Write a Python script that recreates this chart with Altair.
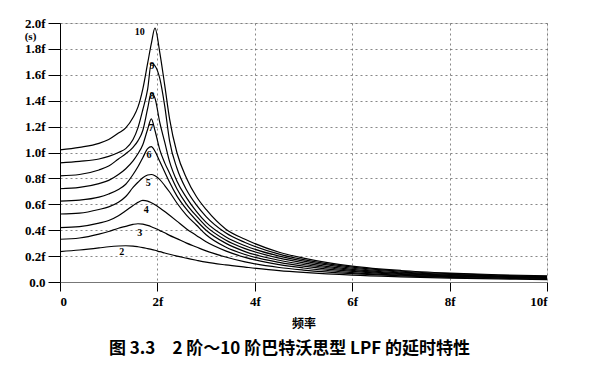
import altair as alt
import pandas as pd

freq = [0, 0.4, 0.8, 1.0, 1.2, 1.35, 1.5, 1.6, 1.7, 1.8, 1.875, 1.95, 2.05, 2.15,
        2.25, 2.4, 2.6, 2.8, 3.0, 3.4, 3.8, 4.5, 5, 6, 7, 8, 9, 10]

d2 = [0.235, 0.247, 0.263, 0.272, 0.278, 0.280, 0.277, 0.272, 0.266, 0.258, 0.252, 0.245, 0.234, 0.224,
      0.214, 0.200, 0.184, 0.168, 0.153, 0.132, 0.115, 0.088, 0.074, 0.053, 0.040, 0.030, 0.024, 0.019]
d3 = [0.330, 0.340, 0.370, 0.390, 0.415, 0.430, 0.445, 0.450, 0.447, 0.437, 0.427, 0.415, 0.397, 0.380,
      0.360, 0.335, 0.300, 0.270, 0.240, 0.193, 0.155, 0.112, 0.092, 0.064, 0.047, 0.036, 0.029, 0.023]
d4 = [0.420, 0.428, 0.455, 0.475, 0.512, 0.550, 0.590, 0.615, 0.630, 0.625, 0.612, 0.597, 0.572, 0.545,
      0.515, 0.470, 0.410, 0.360, 0.310, 0.240, 0.190, 0.134, 0.108, 0.073, 0.053, 0.041, 0.033, 0.027]
d5 = [0.525, 0.532, 0.560, 0.580, 0.615, 0.660, 0.730, 0.770, 0.805, 0.826, 0.830, 0.820, 0.790, 0.745,
      0.695, 0.610, 0.515, 0.440, 0.365, 0.270, 0.212, 0.152, 0.122, 0.082, 0.059, 0.046, 0.037, 0.031]
d6 = [0.625, 0.632, 0.655, 0.680, 0.715, 0.755, 0.830, 0.890, 0.960, 1.030, 1.045, 1.010, 0.930, 0.850,
      0.770, 0.665, 0.560, 0.475, 0.400, 0.300, 0.235, 0.168, 0.135, 0.090, 0.065, 0.050, 0.041, 0.034]
d7 = [0.720, 0.730, 0.760, 0.785, 0.830, 0.875, 0.935, 0.990, 1.060, 1.180, 1.260, 1.170, 1.020, 0.920,
      0.840, 0.720, 0.600, 0.510, 0.430, 0.325, 0.258, 0.184, 0.148, 0.098, 0.071, 0.054, 0.044, 0.037]
d8 = [0.820, 0.830, 0.865, 0.895, 0.950, 0.990, 1.040, 1.090, 1.170, 1.340, 1.460, 1.420, 1.230, 1.080,
      0.930, 0.780, 0.650, 0.545, 0.460, 0.350, 0.280, 0.200, 0.161, 0.106, 0.077, 0.059, 0.048, 0.040]
d9 = [0.920, 0.932, 0.950, 0.970, 1.000, 1.030, 1.100, 1.190, 1.330, 1.490, 1.690, 1.670, 1.570, 1.360,
      1.090, 0.880, 0.710, 0.595, 0.505, 0.380, 0.305, 0.215, 0.173, 0.115, 0.083, 0.064, 0.052, 0.043]
d10 = [1.020, 1.040, 1.070, 1.100, 1.150, 1.190, 1.270, 1.350, 1.490, 1.690, 1.840, 1.960, 1.770, 1.520,
       1.260, 1.000, 0.800, 0.660, 0.560, 0.410, 0.330, 0.230, 0.185, 0.123, 0.089, 0.069, 0.056, 0.047]

orders = [2, 3, 4, 5, 6, 7, 8, 9, 10]
series = [d2, d3, d4, d5, d6, d7, d8, d9, d10]

lab_text = ["2", "3", "4", "5", "6", "7", "8", "9", "10"]
lab_x = [1.27, 1.64, 1.77, 1.81, 1.83, 1.87, 1.89, 1.89, 1.64]
lab_y = [0.23, 0.38, 0.556, 0.765, 0.98, 1.19, 1.44, 1.67, 1.93]

rows = []
for n, vals in zip(orders, series):
    for f, v in zip(freq, vals):
        rows.append({"f": f, "d": v, "order": n})
df = pd.DataFrame(rows)
labels = pd.DataFrame({"t": lab_text, "x": lab_x, "y": lab_y})

SERIF = "Liberation Serif"

xs = alt.Scale(domain=[0, 10], nice=False, zero=False)
ys = alt.Scale(domain=[0, 2], nice=False)

lines = alt.Chart(df).mark_line(color="black", strokeWidth=1.2, interpolate="monotone").encode(
    x=alt.X("f:Q", scale=xs, axis=alt.Axis(
        tickCount=5, title="频率", labelOverlap=False,
        labelExpr="datum.value == 0 ? '0' : datum.value + 'f'",
        labelFont=SERIF, labelFontSize=13, labelFontWeight="bold", labelColor="black",
        labelPadding=4, tickSize=9, tickColor="black", domainColor="#777",
        titleFont="Noto Sans CJK SC", titleFontSize=12, titleFontWeight="bold", titleColor="black",
        titlePadding=10,
        grid=True, gridDash=[2, 3], gridColor="#555", gridWidth=0.7)),
    y=alt.Y("d:Q", scale=ys, axis=alt.Axis(
        tickCount=10, title="(s)", labelOverlap=False,
        labelExpr="datum.value == 0 ? '0.0' : format(datum.value, '.1f') + 'f'",
        labelFont=SERIF, labelFontSize=13, labelFontWeight="bold", labelColor="black",
        labelPadding=3, tickSize=12, tickColor="black", domainColor="black",
        titleAngle=0, titleX=-30, titleY=13, titleAlign="center", titleBaseline="middle",
        titleFont=SERIF, titleFontSize=11, titleFontWeight="bold", titleColor="black",
        grid=True, gridDash=[2, 3], gridColor="#555", gridWidth=0.7)),
    detail="order:N",
)

texts = alt.Chart(labels).mark_text(
    font=SERIF, fontSize=10, fontWeight="bold", color="black",
    align="center", baseline="middle",
).encode(
    x=alt.X("x:Q", scale=xs),
    y=alt.Y("y:Q", scale=ys),
    text="t:N",
)

chart = alt.layer(lines, texts).properties(
    width=487, height=259,
    padding={"left": 52, "top": 15, "right": 60, "bottom": 93},
    autosize=alt.AutoSizeParams(type="none"),
    title=alt.TitleParams(
        text="图 3.3　2 阶～10 阶巴特沃思型 LPF 的延时特性",
        orient="bottom", anchor="middle", dx=-14, offset=12,
        font="Noto Sans CJK SC", fontSize=17, fontWeight="bold", color="black",
    ),
).configure_view(stroke="black", strokeWidth=1).configure(background="white")

chart.save("out.html", embed_options={"renderer": "svg", "actions": False})
